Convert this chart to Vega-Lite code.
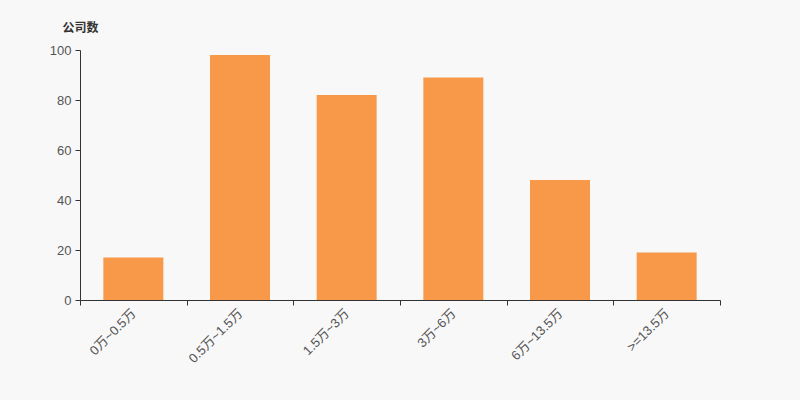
{
  "$schema": "https://vega.github.io/schema/vega-lite/v6.json",
  "autosize": "none",
  "width": 640,
  "height": 250,
  "padding": {"left": 80, "top": 50, "right": 80, "bottom": 100},
  "background": "#f8f8f8",
  "config": {"view": {"stroke": null}, "font": "Liberation Sans, Noto Sans CJK SC"},
  "data": {"values": [
    {"range": "0万~0.5万", "count": 17},
    {"range": "0.5万~1.5万", "count": 98},
    {"range": "1.5万~3万", "count": 82},
    {"range": "3万~6万", "count": 89},
    {"range": "6万~13.5万", "count": 48},
    {"range": ">=13.5万", "count": 19}
  ]},
  "mark": {"type": "bar", "color": "#f8994a", "width": {"band": 0.5625}},
  "encoding": {
    "x": {
      "field": "range", "type": "nominal", "sort": null,
      "scale": {"paddingInner": 0, "paddingOuter": 0},
      "axis": {
        "title": null, "labelAngle": -45, "labelAlign": "right", "labelBaseline": "middle",
        "labelFontSize": 13, "labelColor": "#555", "domainColor": "#333", "tickColor": "#333",
        "tickBand": "extent", "tickSize": 5, "labelPadding": 6
      }
    },
    "y": {
      "field": "count", "type": "quantitative",
      "scale": {"domain": [0, 100]},
      "axis": {
        "title": "公司数", "titleAngle": 0, "titleX": 0, "titleY": -16, "titleAlign": "center",
        "titleFontSize": 12, "titleFontWeight": "bold", "titleColor": "#333",
        "grid": false, "values": [0, 20, 40, 60, 80, 100], "labelFontSize": 13, "labelColor": "#555",
        "domainColor": "#333", "tickColor": "#333", "tickSize": 5, "labelPadding": 4
      }
    }
  }
}
